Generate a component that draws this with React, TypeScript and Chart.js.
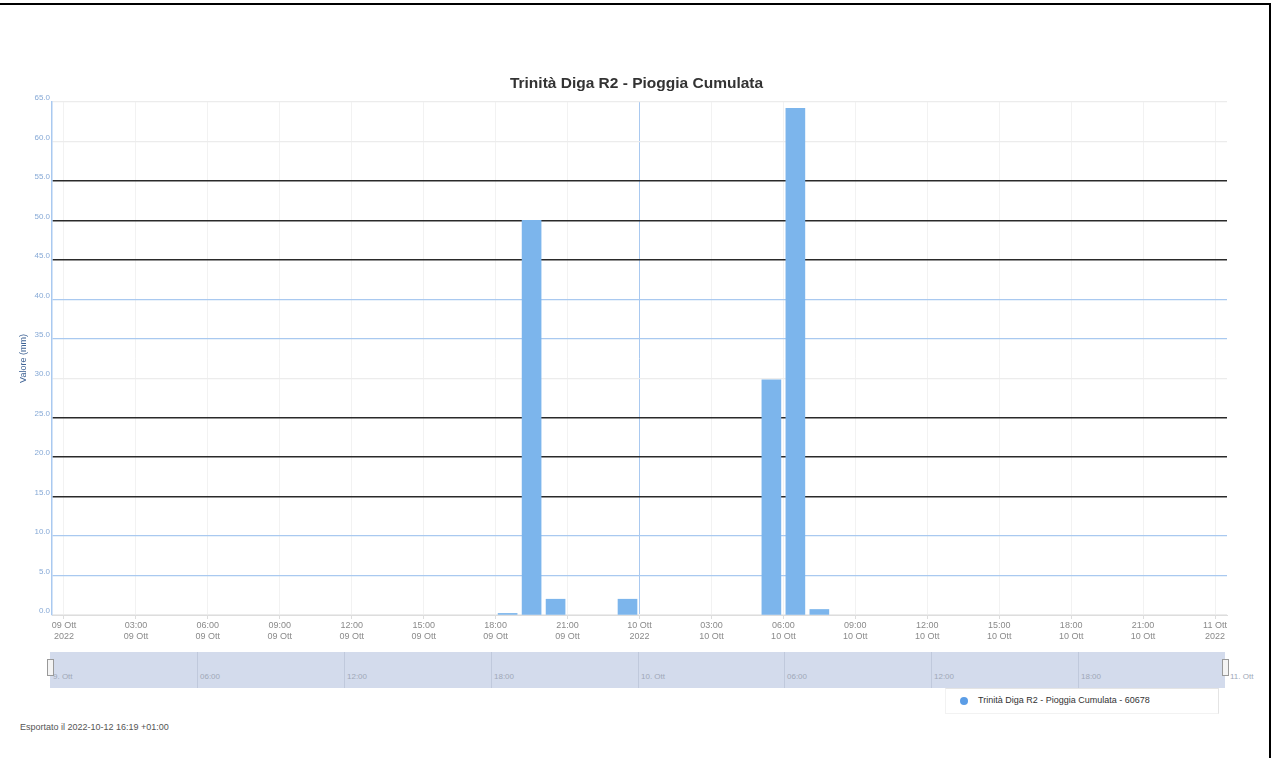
import React, { useEffect, useRef } from "react";
import { Chart, registerables } from "chart.js";

Chart.register(...registerables);

const chartTitle = "Trinità Diga R2 - Pioggia Cumulata";
const yAxisTitle = "Valore (mm)";
const seriesName = "Trinità Diga R2 - Pioggia Cumulata - 60678";
const exportNote = "Esportato il 2022-10-12 16:19 +01:00";

// bar centres, in hours from 09 Ott 2022 00:00
const barHours = [18.5, 19.5, 20.5, 23.5, 29.5, 30.5, 31.5];
const barValues = [0.2, 50.0, 2.0, 2.0, 29.8, 64.2, 0.7];

const xTickHours = [0, 3, 6, 9, 12, 15, 18, 21, 24, 27, 30, 33, 36, 39, 42, 45, 48];
const xTickLabels = [
  ["09 Ott", "2022"], ["03:00", "09 Ott"], ["06:00", "09 Ott"], ["09:00", "09 Ott"],
  ["12:00", "09 Ott"], ["15:00", "09 Ott"], ["18:00", "09 Ott"], ["21:00", "09 Ott"],
  ["10 Ott", "2022"], ["03:00", "10 Ott"], ["06:00", "10 Ott"], ["09:00", "10 Ott"],
  ["12:00", "10 Ott"], ["15:00", "10 Ott"], ["18:00", "10 Ott"], ["21:00", "10 Ott"],
  ["11 Ott", "2022"],
];

const yMin = 0;
const yMax = 65;
const yStep = 5;

const navLabels = ["9. Ott", "06:00", "12:00", "18:00", "10. Ott", "06:00", "12:00", "18:00"];
const navEndLabel = "11. Ott";

const DARK = "#2a2a2a";
const LBLUE = "#a9c9f0";
const LGRAY = "#ececec";
const gridColorFor = (v: number) => {
  if (v === 55 || v === 50 || v === 45 || v === 25 || v === 20 || v === 15) return DARK;
  if (v === 40 || v === 35 || v === 10 || v === 5) return LBLUE;
  return LGRAY;
};

function MainChart() {
  const ref = useRef<HTMLCanvasElement | null>(null);
  useEffect(() => {
    if (!ref.current) return;
    const chart = new Chart(ref.current, {
      type: "bar",
      data: {
        datasets: [
          {
            label: seriesName,
            data: barHours.map((h, i) => ({ x: h, y: barValues[i] })),
            backgroundColor: "#7cb5ec",
            borderWidth: 0,
            barThickness: 19,
            yAxisID: "y",
          },
        ],
      },
      options: {
        animation: false,
        responsive: false,
        maintainAspectRatio: false,
        layout: { padding: { left: 0, right: 0, top: 0, bottom: 0 } },
        plugins: {
          legend: { display: false },
          tooltip: { enabled: false },
          title: {
            display: true,
            text: chartTitle,
            color: "#333333",
            font: { family: "'Liberation Sans', Arial, sans-serif", size: 15.5, weight: "bold" },
            padding: { top: 74, bottom: 9.4 },
          },
        },
        scales: {
          x: {
            type: "linear",
            offset: false,
            min: -0.5,
            max: 48.5,
            afterBuildTicks: (s: any) => {
              s.ticks = xTickHours.map((v) => ({ value: v }));
            },
            afterFit: (s: any) => {
              s.height = 35;
            },
            ticks: {
              autoSkip: false,
              maxRotation: 0,
              minRotation: 0,
              padding: 1,
              color: "#8a8a8a",
              font: { family: "'Liberation Sans', Arial, sans-serif", size: 9 },
              callback: (_v: any, i: number) => xTickLabels[i],
            },
            grid: {
              offset: false,
              color: (c: any) => (c.tick && c.tick.value === 24 ? LBLUE : "rgba(0,0,0,0.05)"),
              tickLength: 4,
              tickColor: "#dddddd",
            },
            border: { display: true, color: "#dddddd" },
          },
          y: {
            position: "left",
            min: yMin,
            max: yMax,
            afterFit: (s: any) => {
              s.width = 52;
            },
            ticks: {
              stepSize: yStep,
              padding: 2,
              labelOffset: -4,
              color: "#86a9d6",
              font: { family: "'Liberation Sans', Arial, sans-serif", size: 8 },
              callback: (v: any) => Number(v).toFixed(1),
            },
            grid: {
              drawTicks: false,
              color: (c: any) => gridColorFor(c.tick ? c.tick.value : -1),
              lineWidth: (c: any) => (gridColorFor(c.tick ? c.tick.value : -1) === DARK ? 1.5 : 1.2),
            },
            border: { display: true, color: LBLUE, width: 1.5 },
            title: {
              display: true,
              text: yAxisTitle,
              color: "#3f6395",
              font: { family: "'Liberation Sans', Arial, sans-serif", size: 9 },
              padding: { top: 18, bottom: 0 },
            },
          },
          y2: {
            position: "right",
            display: true,
            afterFit: (s: any) => {
              s.width = 46;
            },
            ticks: { display: false },
            grid: { display: false, drawTicks: false },
            border: { display: false },
          },
        },
      },
    } as any);
    return () => chart.destroy();
  }, []);
  return (
    <canvas
      ref={ref}
      width={1273}
      height={650}
      style={{ position: "absolute", left: 0, top: 0, width: 1273, height: 650 }}
    />
  );
}

export default function App() {
  const navLeft = 50;
  const navWidth = 1175;
  const pxPerHour = navWidth / 48;
  const font = "'Liberation Sans', Arial, sans-serif";
  return (
    <div
      style={{
        position: "absolute",
        left: 0,
        top: 0,
        width: 1273,
        height: 758,
        background: "#ffffff",
        overflow: "hidden",
        fontFamily: font,
      }}
    >
      <MainChart />
      {/* page borders */}
      <div style={{ position: "absolute", left: 0, top: 3, width: 1271, height: 2, background: "#000" }} />
      <div style={{ position: "absolute", left: 1269, top: 3, width: 2, height: 755, background: "#000" }} />
      {/* navigator */}
      <div
        style={{
          position: "absolute",
          left: navLeft,
          top: 652,
          width: navWidth,
          height: 36,
          background: "#d3dbec",
        }}
      >
        {navLabels.map((lab, i) => (
          <React.Fragment key={i}>
            {i > 0 && (
              <div
                style={{
                  position: "absolute",
                  left: Math.round(i * 6 * pxPerHour),
                  top: 0,
                  width: 1,
                  height: 36,
                  background: "#c0c9dc",
                }}
              />
            )}
            <div
              style={{
                position: "absolute",
                left: Math.round(i * 6 * pxPerHour) + 3,
                top: 20,
                fontSize: 8,
                color: "#a0a8b8",
                whiteSpace: "nowrap",
              }}
            >
              {lab}
            </div>
          </React.Fragment>
        ))}
      </div>
      <div
        style={{
          position: "absolute",
          left: navLeft + navWidth + 5,
          top: 672,
          fontSize: 8,
          color: "#a0a8b8",
          whiteSpace: "nowrap",
        }}
      >
        {navEndLabel}
      </div>
      <div
        style={{
          position: "absolute",
          left: navLeft - 3,
          top: 659,
          width: 5,
          height: 15,
          background: "#f4f4f4",
          border: "1px solid #999",
        }}
      />
      <div
        style={{
          position: "absolute",
          left: navLeft + navWidth - 3,
          top: 659,
          width: 5,
          height: 15,
          background: "#f4f4f4",
          border: "1px solid #999",
        }}
      />
      {/* legend */}
      <div
        style={{
          position: "absolute",
          left: 945,
          top: 688,
          width: 272,
          height: 24,
          borderTop: "1px solid #e4e4e4",
          borderRight: "1px solid #e4e4e4",
          borderBottom: "1px solid #f2f2f2",
          borderLeft: "1px solid #f2f2f2",
        }}
      >
        <div
          style={{
            position: "absolute",
            left: 14,
            top: 8,
            width: 8,
            height: 8,
            borderRadius: 4,
            background: "#5b9de6",
          }}
        />
        <div
          style={{
            position: "absolute",
            left: 32,
            top: 6,
            fontSize: 9,
            color: "#333",
            whiteSpace: "nowrap",
          }}
        >
          {seriesName}
        </div>
      </div>
      {/* footer */}
      <div
        style={{
          position: "absolute",
          left: 20,
          top: 722,
          fontSize: 9,
          color: "#555",
          whiteSpace: "nowrap",
        }}
      >
        {exportNote}
      </div>
    </div>
  );
}
